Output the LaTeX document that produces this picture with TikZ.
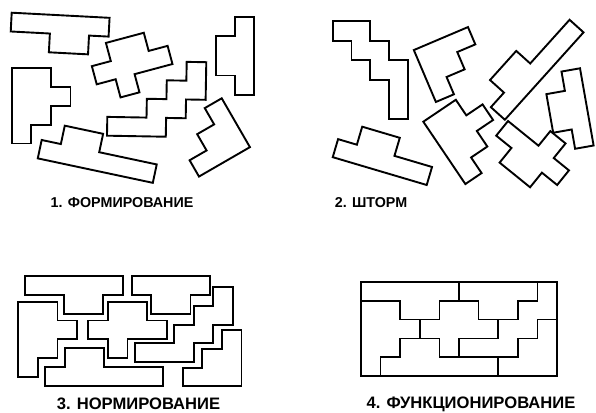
\documentclass[tikz,border=0pt]{standalone}
\usepackage{fontspec}
\setmainfont{Liberation Sans}
\usepackage{tikz}

\tikzset{
  cell/.style={xscale=19.6, yscale=18.8},
  loose/.style={line width=1.9pt, line join=miter},
  tight/.style={line width=1.5pt, line join=miter},
  caption/.style={inner sep=0pt, font=\bfseries\fontsize{14.3}{14.3}\selectfont},
  bigcaption/.style={inner sep=0pt, font=\bfseries\fontsize{16.6}{16.6}\selectfont},
  pics/bar5/.style={code={\draw (0,0) -- (5,0) -- (5,1) -- (4,1) -- (4,2) -- (2,2) -- (2,1) -- (0,1) -- cycle;}},
  pics/bar4/.style={code={\draw (0,0) -- (4,0) -- (4,1) -- (3,1) -- (3,2) -- (1,2) -- (1,1) -- (0,1) -- cycle;}},
  pics/stairs/.style={code={\draw (4,0) -- (5,0) -- (5,2) -- (4,2) -- (4,3) -- (3,3) -- (3,4) -- (0,4) -- (0,3) -- (2,3) -- (2,2) -- (3,2) -- (3,1) -- (4,1) -- cycle;}},
  pics/corner/.style={code={\draw (2,0) -- (3,0) -- (3,3) -- (0,3) -- (0,2) -- (1,2) -- (1,1) -- (2,1) -- cycle;}},
  pics/hook/.style={code={\draw (0,0) -- (2,0) -- (2,1) -- (3,1) -- (3,2) -- (2,2) -- (2,3) -- (1,3) -- (1,4) -- (0,4) -- cycle;}},
  pics/cross/.style={code={\draw (1,0) -- (3,0) -- (3,1) -- (4,1) -- (4,2) -- (2,2) -- (2,3) -- (1,3) -- (1,2) -- (0,2) -- (0,1) -- (1,1) -- cycle;}},
  pics/base/.style={code={\draw (1,0) -- (3,0) -- (3,1) -- (6,1) -- (6,2) -- (0,2) -- (0,1) -- (1,1) -- cycle;}},
}

\begin{document}
\begin{tikzpicture}[x=1pt, y=-1pt]
  \useasboundingbox[fill=white] (0,0) rectangle (596,412);

  % 1. scattered pieces
  \pic[loose, rotate=-3, cell] at (11.7,12.7) {bar5};
  \pic[loose, rotate=15, cell] at (87,48) {cross};
  \pic[loose, rotate=-90, cell] at (254,16.7) {bar4};
  \pic[loose, cell] at (11.7,68.3) {hook};
  \pic[loose, rotate=-1, cell] at (108.3,60.5) {stairs};
  \pic[loose, rotate=-12, cell] at (45.6,121.6) {base};
  \pic[loose, rotate=30, cell] at (170.8,127.7) {corner};

  % 2. storm
  \pic[loose, rotate=90, cell] at (332.7,119) {stairs};
  \pic[loose, rotate=-157, cell] at (490,79) {corner};
  \pic[loose, rotate=48, cell] at (476.9,94.6) {base};
  \pic[loose, rotate=-80, cell] at (580,68.3) {bar4};
  \pic[loose, rotate=34, cell] at (423.3,121.7) {hook};
  \pic[loose, rotate=141, cell] at (545.3,199.6) {cross};
  \pic[loose, rotate=163.5, cell] at (426.7,185) {bar5};

  % 3. pieces with gaps
  \pic[loose, cell] at (25,276) {bar5};
  \pic[loose, cell] at (131.7,276) {bar4};
  \pic[loose, cell] at (135,287) {stairs};
  \pic[loose, cell] at (182.7,330) {corner};
  \pic[loose, cell] at (18.3,301.7) {hook};
  \pic[loose, cell] at (88.3,301.7) {cross};
  \pic[loose, cell] at (45,348.3) {base};

  % 4. closed rectangle
  \pic[tight, cell] at (361,282) {bar5};
  \pic[tight, cell] at (459,282) {bar4};
  \pic[tight, cell] at (459,282) {stairs};
  \pic[tight, cell] at (498.2,319.6) {corner};
  \pic[tight, cell] at (361,300.8) {hook};
  \pic[tight, cell] at (419.8,300.8) {cross};
  \pic[tight, cell] at (380.6,338.4) {base};

  \node[caption] (lab1) at (122,203) {1. ФОРМИРОВАНИЕ};
  \node[caption] (lab2) at (371,203) {2. ШТОРМ};
  \node[bigcaption] (lab3) at (138.5,404) {3. НОРМИРОВАНИЕ};
  \node[bigcaption] (lab4) at (471,404) {4. ФУНКЦИОНИРОВАНИЕ};
\end{tikzpicture}
\end{document}
